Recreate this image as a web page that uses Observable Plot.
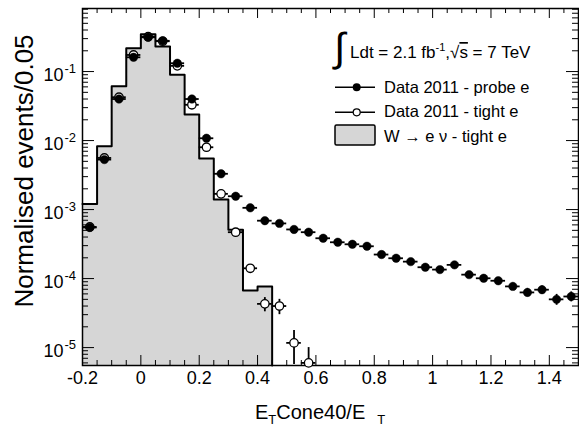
<!DOCTYPE html>
<html><head><meta charset="utf-8">
<script src="https://cdn.jsdelivr.net/npm/d3@7"></script>
<script src="https://cdn.jsdelivr.net/npm/@observablehq/plot@0.6"></script>
<style>html,body{margin:0;padding:0;background:#fff}svg{display:block}</style>
</head><body><div id="chart"></div>
<script>
// ---- data ----
const probeX = [-0.175,-0.125,-0.075,-0.025,0.025,0.075,0.125,0.175,0.225,0.275,0.325,0.375,0.425,0.475,0.525,0.575,0.625,0.675,0.725,0.775,0.825,0.875,0.925,0.975,1.025,1.075,1.125,1.175,1.225,1.275,1.325,1.375,1.425,1.475];
const probeValues = [5.5e-4,5.3e-3,0.040,0.161,0.314,0.279,0.132,0.040,0.0108,3.3e-3,1.56e-3,1.06e-3,6.9e-4,6.3e-4,5.15e-4,4.7e-4,3.84e-4,3.36e-4,3.14e-4,2.94e-4,2.23e-4,1.97e-4,1.76e-4,1.46e-4,1.35e-4,1.58e-4,1.14e-4,1.01e-4,9.3e-5,7.7e-5,6.3e-5,6.9e-5,5.0e-5,5.5e-5];
const probeErrors = [1e-5,5e-5,2e-4,5e-4,8e-4,8e-4,5e-4,2e-4,1e-4,5e-5,3e-5,2.5e-5,2e-5,2e-5,1.8e-5,1.7e-5,1.5e-5,1.4e-5,1.4e-5,1.4e-5,1.2e-5,1.2e-5,1.1e-5,1.0e-5,1.0e-5,1.1e-5,1.0e-5,9e-6,9e-6,9e-6,9e-6,9e-6,9e-6,9e-6];
const tightX = [-0.175,-0.125,-0.075,-0.025,0.025,0.075,0.125,0.175,0.225,0.275,0.325,0.375,0.425,0.475,0.525,0.575];
const tightValues = [5.6e-4,5.6e-3,0.0425,0.174,0.32,0.275,0.121,0.033,0.0080,1.69e-3,4.7e-4,1.41e-4,4.3e-5,4.0e-5,1.17e-5,6.0e-6];
const tightErrors = [1e-5,5e-5,2e-4,5e-4,8e-4,8e-4,5e-4,2e-4,1e-4,4e-5,3e-5,1.5e-5,1.0e-5,1.0e-5,6e-6,4e-6];
const histLow = [-0.2,-0.15,-0.1,-0.05,0,0.05,0.1,0.15,0.2,0.25,0.3,0.35,0.4];
const histValues = [1.2e-3,8.3e-3,0.061,0.218,0.347,0.23,0.0896,0.0238,5.5e-3,1.4e-3,5.1e-4,6.7e-5,7.7e-5];
const binWidth = 0.05;
const xTickValues = [-0.2,0,0.2,0.4,0.6,0.8,1.0,1.2,1.4];
const xTickLabels = ["-0.2","0","0.2","0.4","0.6","0.8","1","1.2","1.4"];
const yTickValues = [1e-1,1e-2,1e-3,1e-4,1e-5];
const yTickExponents = ["-1","-2","-3","-4","-5"];

// ---- layout ----
const W = 579, H = 426, mL = 82, mR = 1, mT = 8, mB = 61;
const pw = W - mL - mR, ph = H - mT - mB;
const yMin = 5.5e-6, yMax = 0.82;
const xMin = -0.2, xMax = 1.5;
const font = "'Liberation Sans', Arial, Helvetica, sans-serif";

const probe = probeX.map((x, i) => ({x, v: probeValues[i], e: probeErrors[i]}));
const tight = tightX.map((x, i) => ({x, v: tightValues[i], e: tightErrors[i]}));
const histLine = histLow.map((x, i) => ({x, v: histValues[i]})).concat([{x: histLow[histLow.length-1] + binWidth, v: yMin}]);
const histArea = histLow.map((x, i) => ({x, v: histValues[i]})).concat([{x: histLow[histLow.length-1] + binWidth, v: histValues[histValues.length-1]}]);

const xMinor = d3.range(0, 35).map(i => +(xMin + i * 0.05).toFixed(3)).filter(v => v > xMin && v < xMax && !xTickValues.some(t => Math.abs(t - v) < 1e-6));
const yMinor = [];
for (let d = -6; d <= 0; d++) for (let k = 2; k <= 9; k++) { const v = k * Math.pow(10, d); if (v > yMin && v < yMax) yMinor.push(v); }

const lo = d => Math.max(d.v - d.e, yMin * 0.3);

const plot = Plot.plot({
  width: W, height: H,
  marginLeft: mL, marginRight: mR, marginTop: mT, marginBottom: mB,
  x: {domain: [xMin, xMax], axis: null},
  y: {type: "log", domain: [yMin, yMax], axis: null},
  style: {fontFamily: font, background: "white", overflow: "visible", color: "black"},
  marks: [
    Plot.areaY(histArea, {x: "x", y1: yMin, y2: "v", curve: "step-after", fill: "#d6d6d6"}),
    Plot.line(histLine, {x: "x", y: "v", curve: "step-after", stroke: "black", strokeWidth: 2}),
    // ticks (inside frame)
    Plot.tickX(xTickValues, {x: d => d, insetTop: ph - 10, stroke: "black", strokeWidth: 1}),
    Plot.tickX(xTickValues, {x: d => d, insetBottom: ph - 10, stroke: "black", strokeWidth: 1}),
    Plot.tickX(xMinor, {x: d => d, insetTop: ph - 5, stroke: "black", strokeWidth: 1}),
    Plot.tickX(xMinor, {x: d => d, insetBottom: ph - 5, stroke: "black", strokeWidth: 1}),
    Plot.tickY(yTickValues, {y: d => d, insetRight: pw - 12, stroke: "black", strokeWidth: 1}),
    Plot.tickY(yTickValues, {y: d => d, insetLeft: pw - 12, stroke: "black", strokeWidth: 1}),
    Plot.tickY(yMinor, {y: d => d, insetRight: pw - 6, stroke: "black", strokeWidth: 1}),
    Plot.tickY(yMinor, {y: d => d, insetLeft: pw - 6, stroke: "black", strokeWidth: 1}),
    Plot.frame({stroke: "black", strokeWidth: 1.5}),
    // tight e (open)
    Plot.ruleY(tight, {x1: d => d.x - binWidth / 2, x2: d => d.x + binWidth / 2, y: "v", stroke: "black", strokeWidth: 1.8}),
    Plot.ruleX(tight, {x: "x", y1: lo, y2: d => d.v + d.e, stroke: "black", strokeWidth: 1.8, clip: true}),
    Plot.dot(tight, {x: "x", y: "v", r: 4.2, fill: "white", stroke: "black", strokeWidth: 1.3}),
    // probe e (filled)
    Plot.ruleY(probe, {x1: d => d.x - binWidth / 2, x2: d => d.x + binWidth / 2, y: "v", stroke: "black", strokeWidth: 1.8}),
    Plot.ruleX(probe, {x: "x", y1: lo, y2: d => d.v + d.e, stroke: "black", strokeWidth: 1.8, clip: true}),
    Plot.dot(probe, {x: "x", y: "v", r: 4.2, fill: "black", stroke: "black", strokeWidth: 0.5}),
    // tick labels
    Plot.text(xTickValues, {x: d => d, text: (d, i) => xTickLabels[i], frameAnchor: "bottom", dy: 18, fontSize: 18, fill: "black"}),
    Plot.text(yTickValues, {y: d => d, text: () => "10", frameAnchor: "left", dx: -19, dy: 4, textAnchor: "end", fontSize: 18, fill: "black"}),
    Plot.text(yTickValues, {y: d => d, text: (d, i) => yTickExponents[i], frameAnchor: "left", dx: -18, dy: -3, textAnchor: "start", fontSize: 13, fill: "black"})
  ]
});

const svg = d3.select(plot);
const g = svg.append("g").attr("font-family", font).attr("fill", "black").attr("text-anchor", "start");
// axis titles
const xt = g.append("text").attr("x", 255).attr("y", 419).attr("font-size", 20);
xt.append("tspan").text("E");
xt.append("tspan").attr("font-size", 13).attr("dy", 5).text("T");
xt.append("tspan").attr("font-size", 20).attr("dy", -5).text("Cone40/E");
xt.append("tspan").attr("font-size", 13).attr("dy", 5).attr("dx", 12).text("T");
g.append("text").attr("transform", "translate(33,171) rotate(-90)").attr("text-anchor", "middle").attr("font-size", 26).text("Normalised events/0.05");

// header
g.append("text").attr("x", 334).attr("y", 61).attr("font-size", 40).text("\u222B");
const ht = g.append("text").attr("x", 350).attr("y", 58).attr("font-size", 17);
ht.append("tspan").text("Ldt = 2.1 fb");
ht.append("tspan").attr("font-size", 11).attr("dy", -7).text("-1");
ht.append("tspan").attr("dy", 7).text(",\u221A");
ht.append("tspan").style("text-decoration", "overline").text("s");
ht.append("tspan").text(" = 7 TeV");

// legend
const lx0 = 335, lx1 = 375, lm = 356.7, tx = 384;
g.append("line").attr("x1", lx0).attr("x2", lx1).attr("y1", 87.3).attr("y2", 87.3).attr("stroke", "black").attr("stroke-width", 1.5);
g.append("circle").attr("cx", lm).attr("cy", 87.3).attr("r", 4).attr("fill", "black");
g.append("text").attr("x", tx).attr("y", 92.5).attr("font-size", 16.5).text("Data 2011 - probe e");
g.append("line").attr("x1", lx0).attr("x2", lx1).attr("y1", 112.3).attr("y2", 112.3).attr("stroke", "black").attr("stroke-width", 1.5);
g.append("circle").attr("cx", lm).attr("cy", 112.3).attr("r", 3.5).attr("fill", "white").attr("stroke", "black").attr("stroke-width", 1.2);
g.append("text").attr("x", tx).attr("y", 117.3).attr("font-size", 16.5).text("Data 2011 - tight e");
g.append("rect").attr("x", lx0).attr("y", 125).attr("width", lx1 - lx0).attr("height", 20).attr("rx", 1.5).attr("fill", "#d6d6d6").attr("stroke", "black").attr("stroke-width", 1.5);
g.append("text").attr("x", tx).attr("y", 142).attr("font-size", 16.5).text("W \u2192 e \u03BD - tight e");

document.getElementById("chart").appendChild(plot);
</script></body></html>
